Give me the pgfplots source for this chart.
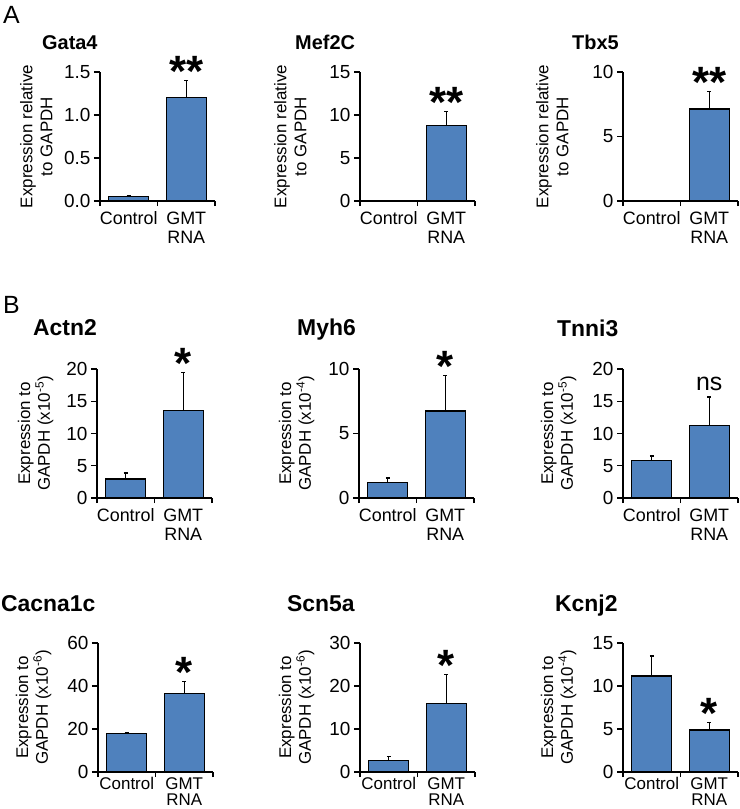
\documentclass[border=0pt]{standalone}
\usepackage{fontspec}
\setmainfont{Liberation Sans}
\usepackage{pgfplots}
\pgfplotsset{compat=1.18}
\usetikzlibrary{calc}
\definecolor{barblue}{HTML}{4F81BD}
\newcommand\lab{\fontsize{17}{20}\selectfont}
\newcommand\xlab{\fontsize{18}{20}\selectfont}
\newcommand\xlabc{\fontsize{17}{17}\selectfont}
\newcommand\ylab{\fontsize{19}{22}\selectfont}
\newcommand\ttl{\fontsize{20}{24}\selectfont\bfseries}
\newcommand\ttlb{\fontsize{23}{26}\selectfont\bfseries}
\newcommand\starfont{\fontsize{44}{44}\selectfont\bfseries}
\newcommand\letter{\fontsize{25}{28}\selectfont}

\tikzset{
  sigstar/.style={anchor=south, inner sep=0pt, font=\starfont, yshift=-6bp},
}
\pgfplotsset{
  panel/.style={
    scale only axis, width=115bp, height=129bp,
    xmin=-0.5, xmax=1.5, ymin=0,
    axis x line*=bottom, axis y line*=left,
    axis line style={-, line width=1.3bp, black},
    ybar, bar width=40bp,
    xtick={0,1}, xticklabels={Control,GMT\\RNA},
    minor xtick={-0.5,0.5,1.5},
    major x tick style={draw=none},
    tick align=outside, major tick length=6bp, minor tick length=5bp,
    tick style={line width=1.3bp, black},
    xticklabel style={align=center, anchor=north, font=\xlab, yshift=-1bp},
    yticklabel style={font=\ylab},
    /pgf/number format/assume math mode=true,
    ylabel style={font=\lab, align=center, anchor=south,
                  at={($(rel axis cs:0,0.5)+(-42bp,0)$)}},
    clip=false,
  },
  wide label/.style={ylabel style={at={($(rel axis cs:0,0.5)+(-#1,0)$)}}},
  last row/.style={xticklabel style={font=\xlabc, inner sep=0pt, yshift=2bp}},
  bars/.style={fill=barblue, draw=black, line width=1.3bp,
    error bars/.cd, y dir=plus, y explicit,
    error bar style={line width=1.3bp, black},
    error mark options={rotate=90, mark size=2bp, black, line width=1.3bp}},
}

\begin{document}
\begin{tikzpicture}

\node[anchor=base west, font=\letter, inner sep=0] at (3bp,-23bp) {A};
\node[anchor=base west, font=\letter, inner sep=0] at (3bp,-313bp) {B};

% ---- row 1 -------------------------------------------------------------
\node[anchor=base west, font=\ttl, inner sep=0] at (42bp,-49bp) {Gata4};
\begin{axis}[panel, at={(100bp,-201bp)}, anchor=south west, wide label=44bp,
  ymax=1.5, ytick={0,0.5,1,1.5},
  yticklabel style={/pgf/number format/.cd, fixed, fixed zerofill, precision=1},
  ylabel={Expression relative\\to GAPDH}]
\addplot[bars] coordinates {(0,0.05) +- (0,0.01) (1,1.20) +- (0,0.20)};
\node[sigstar] at (axis cs:1,1.40) {**};
\end{axis}

\node[anchor=base west, font=\ttl, inner sep=0] at (295bp,-49bp) {Mef2C};
\begin{axis}[panel, at={(360bp,-201bp)}, anchor=south west, wide label=50bp,
  ymax=15, ytick={0,5,10,15},
  ylabel={Expression relative\\to GAPDH}]
\addplot[bars] coordinates {(0,0.03) +- (0,0.0) (1,8.75) +- (0,1.65)};
\node[sigstar] at (axis cs:1,10.4) {**};
\end{axis}

\node[anchor=base west, font=\ttl, inner sep=0] at (572bp,-49bp) {Tbx5};
\begin{axis}[panel, at={(623bp,-201bp)}, anchor=south west, wide label=51bp,
  ymax=10, ytick={0,5,10},
  ylabel={Expression relative\\to GAPDH}]
\addplot[bars] coordinates {(0,0.02) +- (0,0.0) (1,7.13) +- (0,1.37)};
\node[sigstar] at (axis cs:1,8.5) {**};
\end{axis}

% ---- row 2 -------------------------------------------------------------
\node[anchor=base west, font=\ttlb, inner sep=0] at (33bp,-335bp) {Actn2};
\begin{axis}[panel, at={(97bp,-498bp)}, anchor=south west, wide label=40bp,
  ymax=20, ytick={0,5,10,15,20},
  ylabel={Expression to\\GAPDH (x10\textsuperscript{-5})}]
\addplot[bars] coordinates {(0,2.96) +- (0,0.94) (1,13.56) +- (0,5.92)};
\node[sigstar] at (axis cs:1,19.48) {*};
\end{axis}

\node[anchor=base west, font=\ttlb, inner sep=0] at (297bp,-335bp) {Myh6};
\begin{axis}[panel, at={(359bp,-498bp)}, anchor=south west, wide label=41bp,
  ymax=10, ytick={0,5,10},
  ylabel={Expression to\\GAPDH (x10\textsuperscript{-4})}]
\addplot[bars] coordinates {(0,1.22) +- (0,0.34) (1,6.75) +- (0,2.73)};
\node[sigstar] at (axis cs:1,9.48) {*};
\end{axis}

\node[anchor=base west, font=\ttlb, inner sep=0] at (557bp,-336bp) {Tnni3};
\begin{axis}[panel, at={(623bp,-498bp)}, anchor=south west, wide label=43bp,
  ymax=20, ytick={0,5,10,15,20},
  ylabel={Expression to\\GAPDH (x10\textsuperscript{-5})}]
\addplot[bars] coordinates {(0,5.82) +- (0,0.67) (1,11.27) +- (0,4.37)};
\node[anchor=south, inner sep=0pt, font=\fontsize{25}{28}\selectfont, yshift=6bp]
  at (axis cs:1,15.64) {ns};
\end{axis}

% ---- row 3 -------------------------------------------------------------
\node[anchor=base west, font=\ttlb, inner sep=0] at (1bp,-611bp) {Cacna1c};
\begin{axis}[panel, last row, at={(98bp,-772bp)}, anchor=south west, wide label=43bp,
  ymax=60, ytick={0,20,40,60},
  ylabel={Expression to\\GAPDH (x10\textsuperscript{-6})}]
\addplot[bars] coordinates {(0,17.9) +- (0,0.3) (1,36.5) +- (0,5.6)};
\node[sigstar] at (axis cs:1,42.1) {*};
\end{axis}

\node[anchor=base west, font=\ttlb, inner sep=0] at (287bp,-611bp) {Scn5a};
\begin{axis}[panel, last row, at={(360bp,-772bp)}, anchor=south west, wide label=42bp,
  ymax=30, ytick={0,10,20,30},
  ylabel={Expression to\\GAPDH (x10\textsuperscript{-6})}]
\addplot[bars] coordinates {(0,2.65) +- (0,1.01) (1,15.98) +- (0,6.62)};
\node[sigstar] at (axis cs:1,22.6) {*};
\end{axis}

\node[anchor=base west, font=\ttlb, inner sep=0] at (555bp,-611bp) {Kcnj2};
\begin{axis}[panel, last row, at={(623bp,-772bp)}, anchor=south west, wide label=43bp,
  ymax=15, ytick={0,5,10,15},
  ylabel={Expression to\\GAPDH (x10\textsuperscript{-4})}]
\addplot[bars] coordinates {(0,11.18) +- (0,2.30) (1,4.87) +- (0,0.86)};
\node[sigstar] at (axis cs:1,5.73) {*};
\end{axis}

\pgfresetboundingbox
\path[use as bounding box] (0bp,0bp) rectangle (740bp,-809bp);
\end{tikzpicture}
\end{document}
